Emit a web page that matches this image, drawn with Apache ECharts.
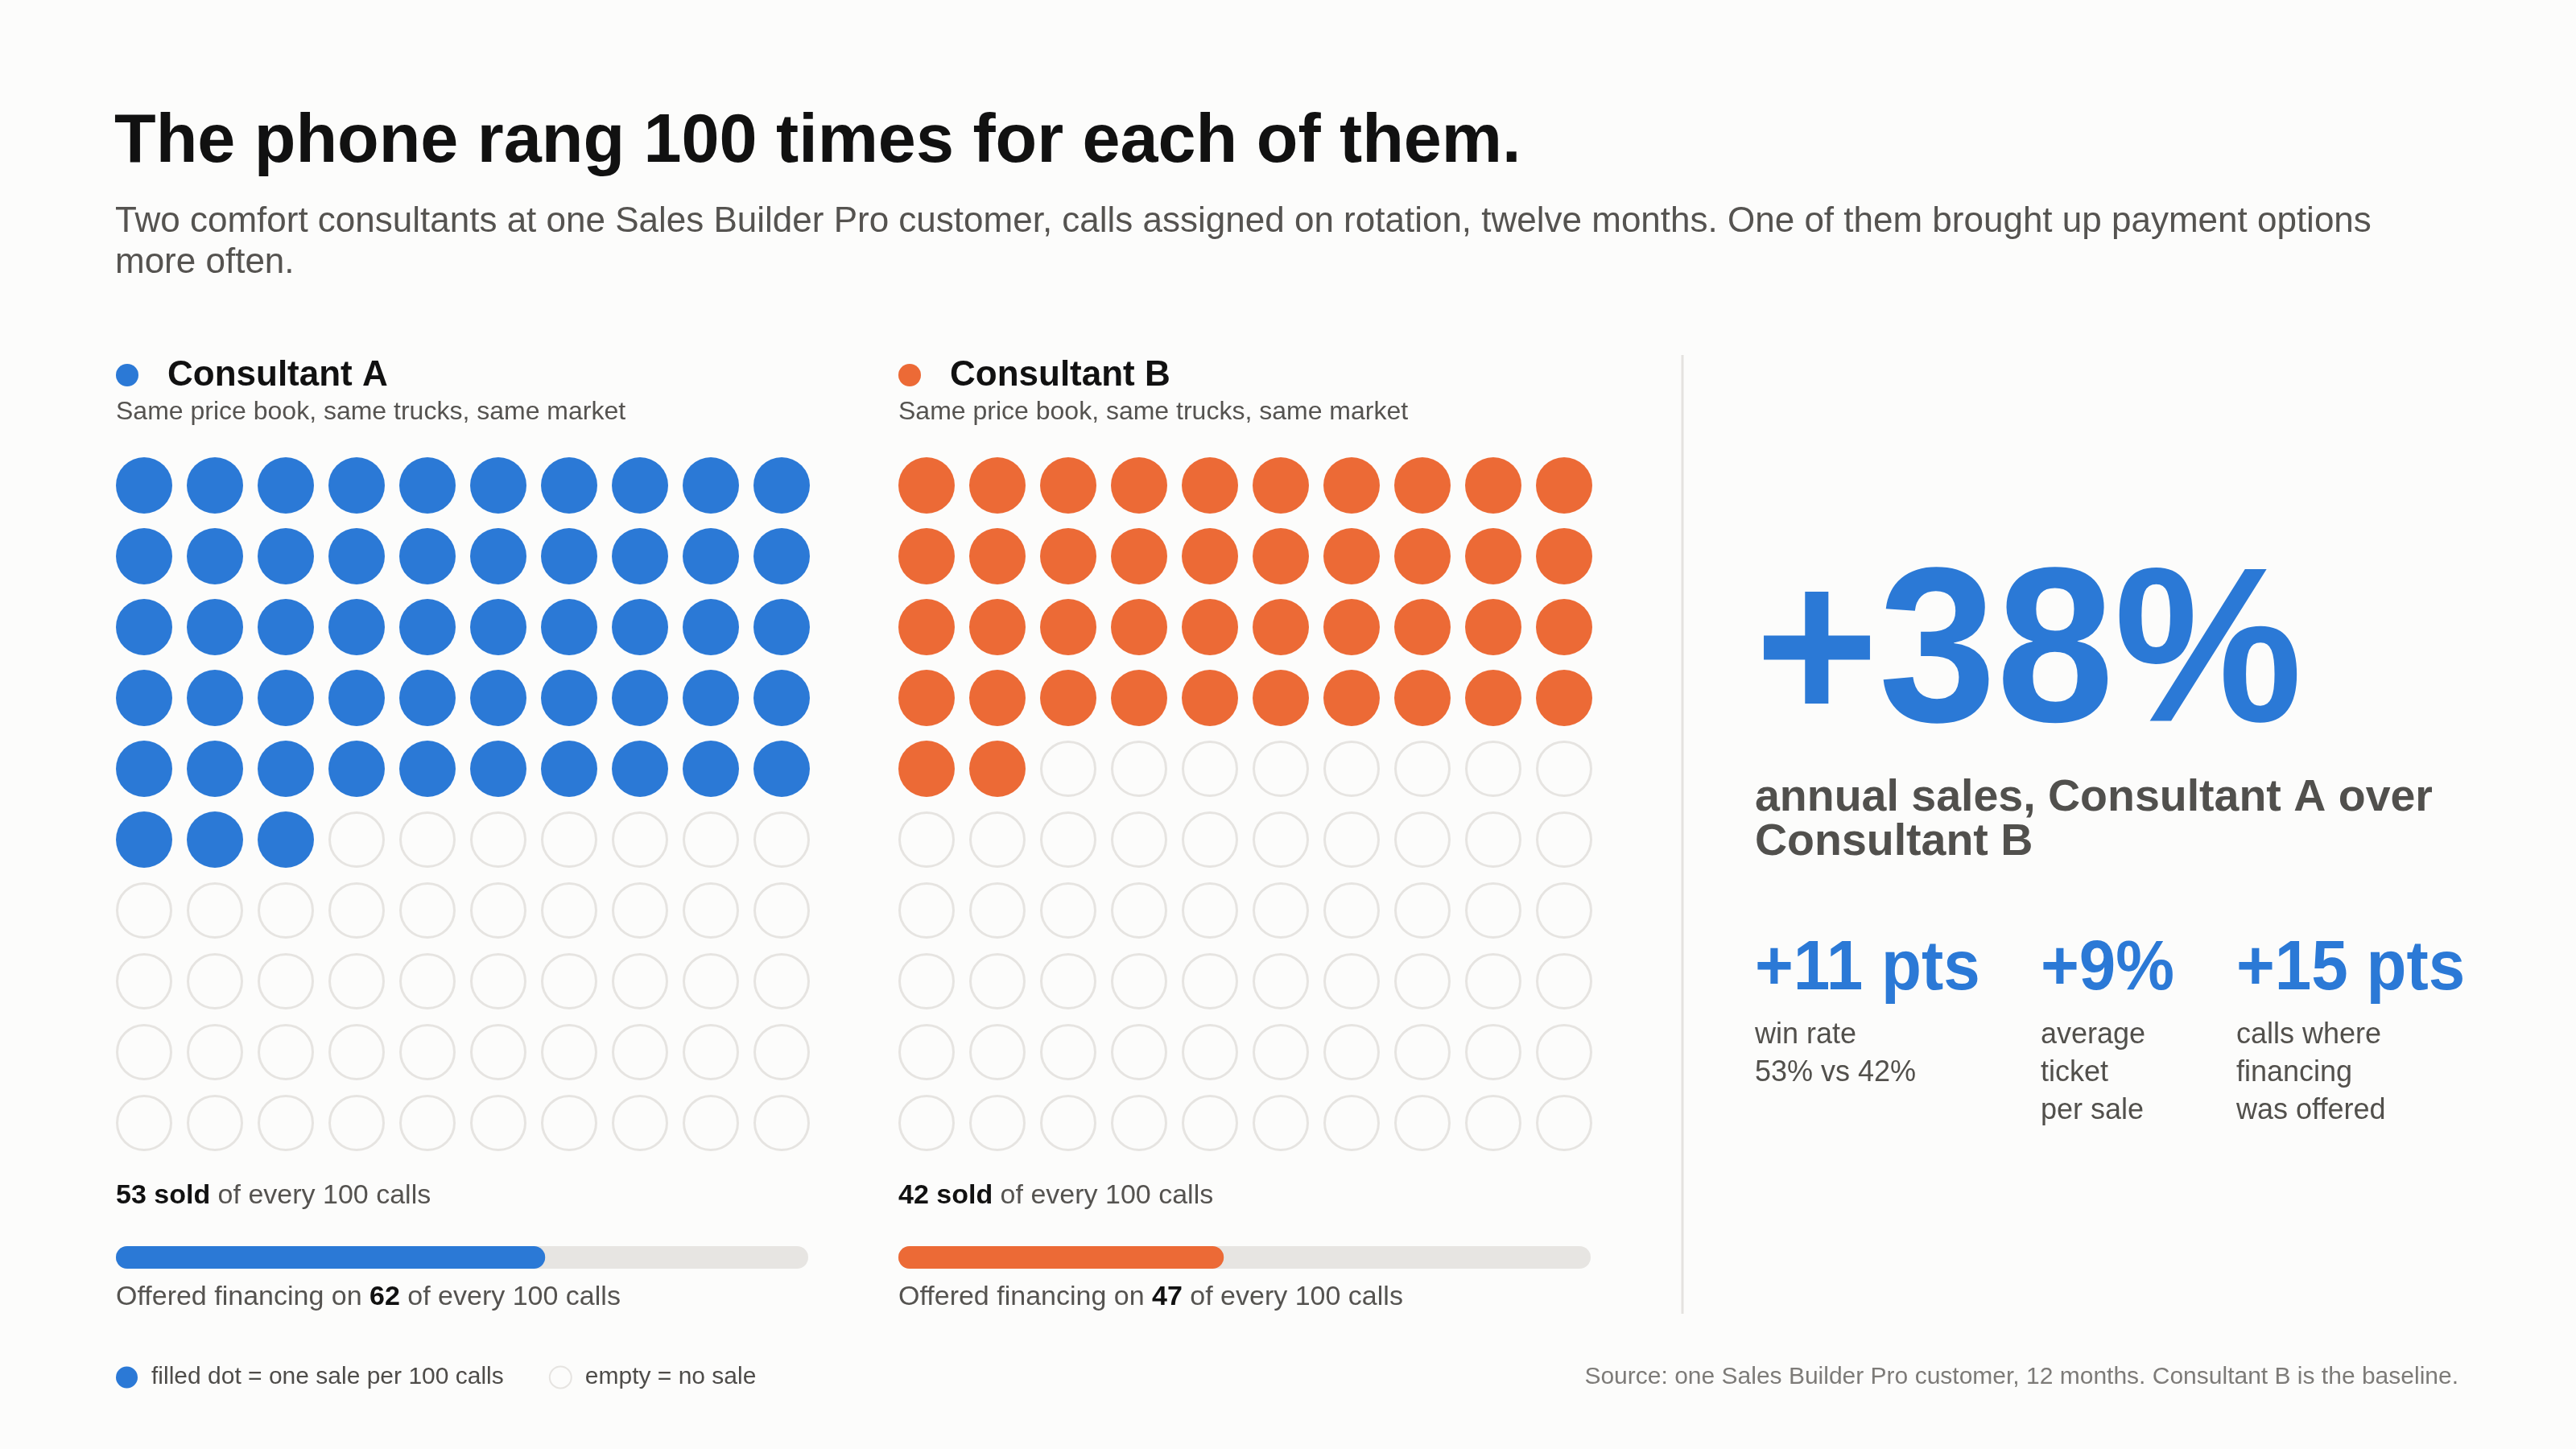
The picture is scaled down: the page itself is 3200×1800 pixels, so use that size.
<!DOCTYPE html>
<html><head><meta charset="utf-8">
<script src="https://cdn.jsdelivr.net/npm/echarts@6/dist/echarts.min.js"></script>
<style>html,body{margin:0;padding:0;background:#fcfcfb;} #c{width:3200px;height:1800px;}</style>
</head><body><div id="c"></div>
<script>
// ---- data ----
const titleText = 'The phone rang 100 times for each of them.';
const subtitleText = 'Two comfort consultants at one Sales Builder Pro customer, calls assigned on rotation, twelve months. One of them brought up payment options\nmore often.';
const consultants = ['Consultant A', 'Consultant B'];
const consultantNotes = ['Same price book, same trucks, same market', 'Same price book, same trucks, same market'];
const soldPer100 = [53, 42];
const financingPer100 = [62, 47];
const callsPerGrid = 100;
const headlineValue = '+38%';
const headlineLabel = 'annual sales, Consultant A over\nConsultant B';
const statValues = ['+11 pts', '+9%', '+15 pts'];
const statLabels = ['win rate\n53% vs 42%', 'average\nticket\nper sale', 'calls where\nfinancing\nwas offered'];
const legendLabels = ['filled dot = one sale per 100 calls', 'empty = no sale'];
const sourceText = 'Source: one Sales Builder Pro customer, 12 months. Consultant B is the baseline.';

// ---- style ----
const FONT = '"Liberation Sans", Arial, Helvetica, sans-serif';
const colors = ['#2b79d6', '#ec6a36'];
const emptyStroke = '#e6e4e1';
const trackColor = '#e7e5e2';
const dark = '#111111';
const gray = '#555350';
const panelX = [144, 1116];
const cell = 88;
const dotSize = 70;

const chart = echarts.init(document.getElementById('c'), null, {renderer: 'canvas'});

const grids = [], xAxes = [], yAxes = [], series = [];
consultants.forEach((name, ci) => {
  // dot grid
  grids.push({left: panelX[ci] + dotSize / 2, top: 603, width: cell * 9, height: cell * 9});
  xAxes.push({type: 'value', gridIndex: grids.length - 1, min: 0, max: 9, show: false});
  yAxes.push({type: 'value', gridIndex: grids.length - 1, min: 0, max: 9, inverse: true, show: false});
  const filled = [], empty = [];
  for (let i = 0; i < callsPerGrid; i++) {
    const p = [i % 10, Math.floor(i / 10)];
    (i < soldPer100[ci] ? filled : empty).push(p);
  }
  const gi = grids.length - 1;
  series.push({
    name: legendLabels[0], type: 'scatter', xAxisIndex: gi, yAxisIndex: gi,
    data: filled, symbol: 'circle', symbolSize: dotSize, silent: true,
    itemStyle: {color: colors[ci], opacity: 1}, emphasis: {disabled: true}
  });
  series.push({
    name: legendLabels[1], type: 'scatter', xAxisIndex: gi, yAxisIndex: gi,
    data: empty, symbol: 'circle', symbolSize: dotSize - 3, silent: true,
    itemStyle: {color: 'rgba(0,0,0,0)', borderColor: emptyStroke, borderWidth: 3, opacity: 1},
    emphasis: {disabled: true}
  });
  // financing bar
  grids.push({left: panelX[ci], top: 1548, width: 860, height: 28});
  const bi = grids.length - 1;
  xAxes.push({type: 'value', gridIndex: bi, min: 0, max: 100, show: false});
  yAxes.push({type: 'category', gridIndex: bi, data: [name], show: false});
  series.push({
    name: name + ' financing', type: 'bar', xAxisIndex: bi, yAxisIndex: bi,
    data: [financingPer100[ci]], barWidth: 28, silent: true,
    itemStyle: {color: colors[ci], borderRadius: 14},
    showBackground: true, backgroundStyle: {color: trackColor, borderRadius: 14},
    emphasis: {disabled: true}
  });
});

function txt(x, y, text, fs, weight, color, extra) {
  const st = Object.assign({text: text, fontSize: fs, fontWeight: weight, fontFamily: FONT, fill: color,
    align: 'left', verticalAlign: 'middle'}, (extra && extra.style) || {});
  const el = {type: 'text', x: x, y: y, silent: true, style: st};
  if (extra && extra.scaleX) { el.scaleX = extra.scaleX; }
  return el;
}

const graphics = [];
graphics.push(txt(142, 177, titleText, 86, 'bold', dark, {scaleX: 0.983}));
graphics.push(txt(143, 276 - 25.5, subtitleText, 44, 'normal', gray, {style: {verticalAlign: 'top', lineHeight: 51}}));

consultants.forEach((name, ci) => {
  const x0 = panelX[ci];
  graphics.push({type: 'circle', silent: true, shape: {cx: x0 + 14, cy: 466, r: 14}, style: {fill: colors[ci]}});
  graphics.push(txt(x0 + 64, 467, name, 44, 'bold', dark));
  graphics.push(txt(x0, 512, consultantNotes[ci], 32, 'normal', gray));
  graphics.push(txt(x0, 1486, '{b|' + soldPer100[ci] + ' sold} of every ' + callsPerGrid + ' calls', 34, 'normal', gray,
    {style: {rich: {b: {fontSize: 34, fontWeight: 'bold', fill: dark, fontFamily: FONT}}}}));
  graphics.push(txt(x0, 1612, 'Offered financing on {b|' + financingPer100[ci] + '} of every ' + callsPerGrid + ' calls', 34, 'normal', gray,
    {style: {rich: {b: {fontSize: 34, fontWeight: 'bold', fill: dark, fontFamily: FONT}}}}));
});

// divider
graphics.push({type: 'line', silent: true, shape: {x1: 2090, y1: 441, x2: 2090, y2: 1632}, style: {stroke: '#e4e2df', lineWidth: 3}});

// right panel
graphics.push(txt(2180, 820, headlineValue, 274, 'bold', colors[0], {scaleX: 0.96}));
graphics.push(txt(2180, 992 - 28, headlineLabel, 55.5, 'bold', '#51504d', {style: {verticalAlign: 'top', lineHeight: 55}}));
const statX = [2180, 2535, 2778];
statValues.forEach((v, i) => {
  graphics.push(txt(statX[i], 1205, v, 88, 'bold', colors[0], {scaleX: 0.93}));
  graphics.push(txt(statX[i], 1286 - 23.5, statLabels[i], 36, 'normal', '#52504c', {style: {verticalAlign: 'top', lineHeight: 47}}));
});

graphics.push(txt(3054, 1711, sourceText, 30, 'normal', '#7d7b78', {style: {align: 'right'}}));

chart.setOption({
  backgroundColor: '#fcfcfb',
  animation: false,
  grid: grids, xAxis: xAxes, yAxis: yAxes, series: series,
  legend: {
    data: legendLabels, left: 144, top: 1696, orient: 'horizontal', padding: 0,
    itemWidth: 27, itemHeight: 27, itemGap: 56, icon: 'circle', selectedMode: false,
    textStyle: {fontSize: 30, color: '#4e4c49', fontFamily: FONT, padding: [0, 0, 0, 12]}
  },
  graphic: graphics
});
</script></body></html>
